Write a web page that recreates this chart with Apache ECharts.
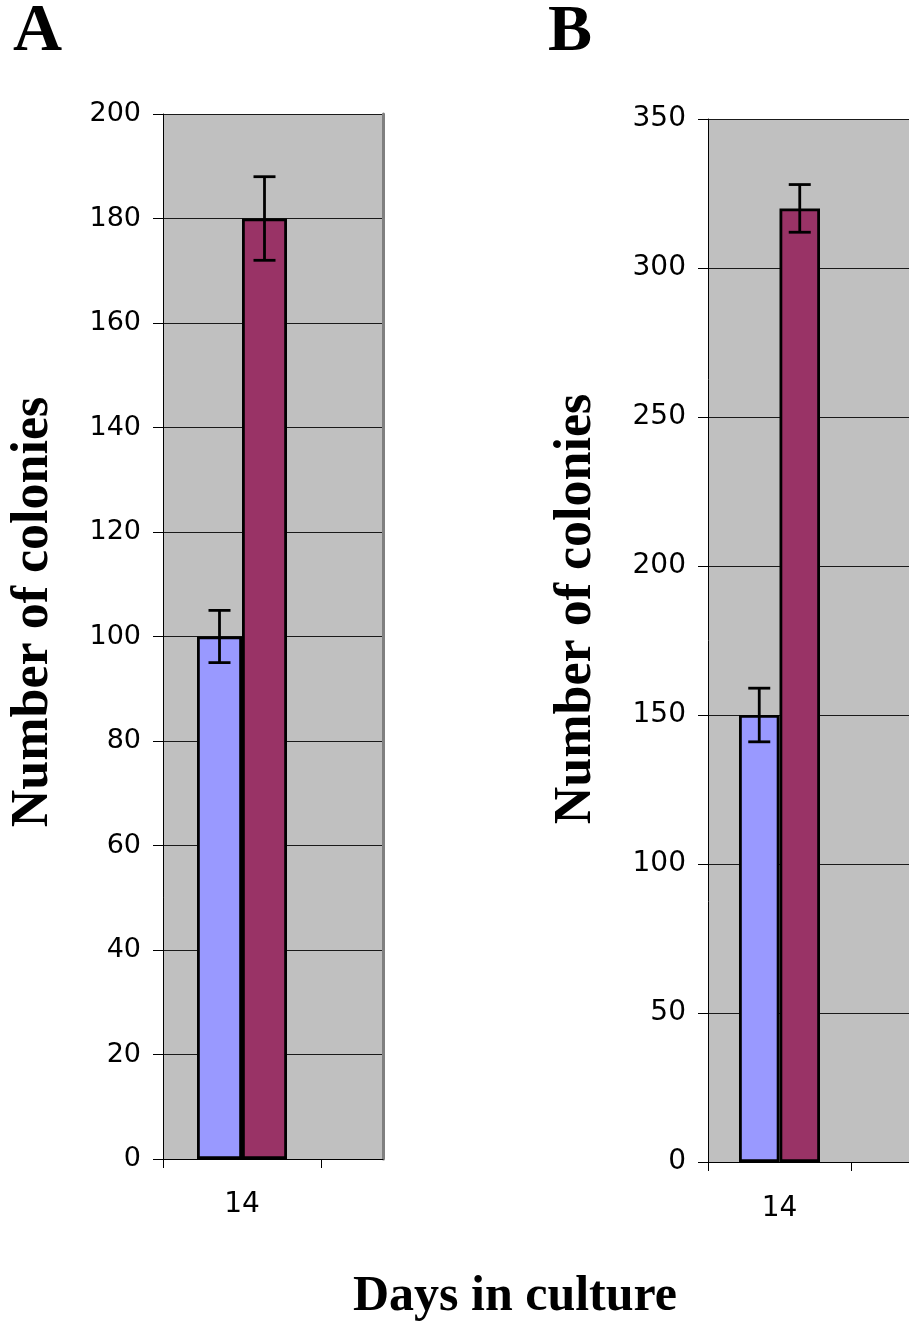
<!DOCTYPE html>
<html>
<head>
<meta charset="utf-8">
<script src="https://cdn.jsdelivr.net/npm/echarts@6/dist/echarts.min.js"></script>
<style>
  html, body { margin: 0; padding: 0; background: #fff; }
  #chart { width: 909px; height: 1323px; }
</style>
</head>
<body>
<div id="chart"></div>
<script>
// Colony counts after 14 days in culture, two experiments (A and B)
const categories = ['14'];

const panelABlue = [100];
const panelAPurple = [180];
const panelABlueErr = [5];
const panelAPurpleErr = [8];

const panelBBlue = [150];
const panelBPurple = [320];
const panelBBlueErr = [9];
const panelBPurpleErr = [8];

const yTicksA = { min: 0, max: 200, interval: 20 };
const yTicksB = { min: 0, max: 350, interval: 50 };

const BLUE = '#9999FF';
const PURPLE = '#993366';
const PLOT_BG = '#C0C0C0';

const tickFont = 'DejaVu Sans, Verdana, sans-serif';
const titleFont = '"Liberation Serif", "Times New Roman", serif';

// Panel geometry (pixels); panel B runs to the right edge of the canvas
const A = { left: 163, top: 114, width: 220, height: 1045, band: 158, barW: 45 };
const B = { left: 708, top: 119, width: 201, height: 1043, band: 143, barW: 40.5 };

function barData(values) {
  return values.map((v, i) => [i + 0.5, v]);
}
function errData(values, errs) {
  return values.map((v, i) => [i + 0.5, v, errs[i]]);
}

function errorSeries(idx, values, errs, dx) {
  return {
    type: 'custom',
    xAxisIndex: idx,
    yAxisIndex: idx,
    z: 5,
    data: errData(values, errs),
    renderItem: function (params, api) {
      const x = api.value(0), v = api.value(1), e = api.value(2);
      const hi = api.coord([x, v + e]);
      const lo = api.coord([x, v - e]);
      const cx = hi[0] + dx;
      const cap = 11;
      const style = { stroke: '#000', lineWidth: 2.8 };
      return {
        type: 'group',
        children: [
          { type: 'line', shape: { x1: cx, y1: hi[1], x2: cx, y2: lo[1] }, style: style },
          { type: 'line', shape: { x1: cx - cap, y1: hi[1], x2: cx + cap, y2: hi[1] }, style: style },
          { type: 'line', shape: { x1: cx - cap, y1: lo[1], x2: cx + cap, y2: lo[1] }, style: style }
        ]
      };
    }
  };
}

function xAxisFor(idx, g, labelSize, margin) {
  return {
    type: 'value',
    gridIndex: idx,
    min: 0,
    max: g.width / g.band,
    splitLine: { show: false },
    axisLine: { show: true, lineStyle: { color: '#000', width: 1 } },
    axisTick: {
      show: true, inside: false, length: 9,
      customValues: categories.map((c, i) => i).concat([categories.length]),
      lineStyle: { color: '#000', width: 1 }
    },
    axisLabel: {
      show: true,
      customValues: categories.map((c, i) => i + 0.5),
      formatter: function (v) { return categories[Math.floor(v)]; },
      fontFamily: tickFont, fontSize: labelSize, color: '#000', margin: margin
    }
  };
}

function yAxisFor(idx, t, labelSize) {
  return {
    type: 'value',
    gridIndex: idx,
    min: t.min, max: t.max, interval: t.interval,
    axisLine: { show: true, lineStyle: { color: '#000', width: 1 } },
    axisTick: { show: true, inside: false, length: 10, lineStyle: { color: '#000', width: 1 } },
    axisLabel: { fontFamily: tickFont, fontSize: labelSize, color: '#000', margin: 22 },
    splitLine: { show: true, lineStyle: { color: '#1a1a1a', width: 1 } }
  };
}

const chart = echarts.init(document.getElementById('chart'), null, { renderer: 'canvas' });

chart.setOption({
  animation: false,
  backgroundColor: '#fff',
  grid: [
    { left: A.left, top: A.top, width: A.width, height: A.height, show: true,
      backgroundColor: PLOT_BG, borderWidth: 0, outerBoundsMode: 'none' },
    { left: B.left, top: B.top, width: B.width, height: B.height, show: true,
      backgroundColor: PLOT_BG, borderWidth: 0, outerBoundsMode: 'none' }
  ],
  xAxis: [xAxisFor(0, A, 28, 32), xAxisFor(1, B, 28, 33)],
  yAxis: [
    yAxisFor(0, yTicksA, 27),
    yAxisFor(1, yTicksB, 28),
    // gray right-hand frame edge of panel A's plot area
    { type: 'value', gridIndex: 0, position: 'right', min: yTicksA.min, max: yTicksA.max,
      axisLine: { show: true, lineStyle: { color: '#808080', width: 3 } },
      axisTick: { show: false }, axisLabel: { show: false }, splitLine: { show: false } }
  ],
  series: [
    { type: 'bar', xAxisIndex: 0, yAxisIndex: 0, data: barData(panelABlue), barWidth: A.barW, barGap: '0%',
      itemStyle: { color: BLUE, borderColor: '#000', borderWidth: 2.8 } },
    { type: 'bar', xAxisIndex: 0, yAxisIndex: 0, data: barData(panelAPurple), barWidth: A.barW, barGap: '0%',
      itemStyle: { color: PURPLE, borderColor: '#000', borderWidth: 2.8 } },
    { type: 'bar', xAxisIndex: 1, yAxisIndex: 1, data: barData(panelBBlue), barWidth: B.barW, barGap: '0%',
      itemStyle: { color: BLUE, borderColor: '#000', borderWidth: 2.8 } },
    { type: 'bar', xAxisIndex: 1, yAxisIndex: 1, data: barData(panelBPurple), barWidth: B.barW, barGap: '0%',
      itemStyle: { color: PURPLE, borderColor: '#000', borderWidth: 2.8 } },
    errorSeries(0, panelABlue, panelABlueErr, -A.barW / 2),
    errorSeries(0, panelAPurple, panelAPurpleErr, A.barW / 2),
    errorSeries(1, panelBBlue, panelBBlueErr, -B.barW / 2),
    errorSeries(1, panelBPurple, panelBPurpleErr, B.barW / 2)
  ],
  graphic: [
    { type: 'text', x: 13, y: 32, style: { text: 'A', font: 'bold 68px ' + titleFont, fill: '#000',
      align: 'left', verticalAlign: 'middle' } },
    { type: 'text', x: 548, y: 33, style: { text: 'B', font: 'bold 66px ' + titleFont, fill: '#000',
      align: 'left', verticalAlign: 'middle' } },
    { type: 'text', x: 34, y: 612, rotation: Math.PI / 2,
      style: { text: 'Number of colonies', font: 'bold 52px ' + titleFont, fill: '#000',
      align: 'center', verticalAlign: 'middle' } },
    { type: 'text', x: 577, y: 609, rotation: Math.PI / 2,
      style: { text: 'Number of colonies', font: 'bold 52px ' + titleFont, fill: '#000',
      align: 'center', verticalAlign: 'middle' } },
    { type: 'text', x: 515, y: 1297, style: { text: 'Days in culture', font: 'bold 50px ' + titleFont, fill: '#000',
      align: 'center', verticalAlign: 'middle' } }
  ]
});
</script>
</body>
</html>
